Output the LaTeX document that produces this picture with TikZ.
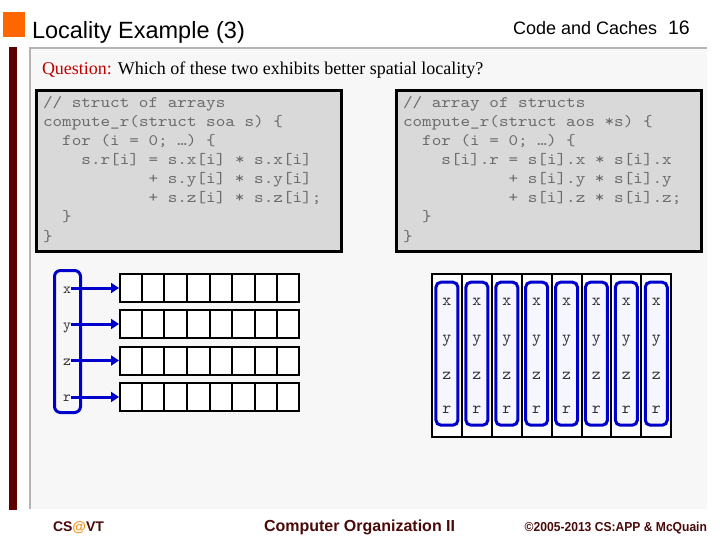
\documentclass[tikz,border=0pt]{standalone}
\usepackage{fontspec}
\setmainfont{Liberation Serif}
\setsansfont{Liberation Sans}
\setmonofont{lmmono10-regular.otf}[FakeStretch=1.143]
\newfontfamily\lblfont{lmmono10-regular.otf}
\usetikzlibrary{arrows.meta,calc}

\definecolor{orangesq}{HTML}{FF6600}
\definecolor{maroonbar}{HTML}{5C0000}
\definecolor{panelbg}{HTML}{F7F7F7}
\definecolor{panelline}{HTML}{B4B4B4}
\definecolor{codebg}{HTML}{D9D9D9}
\definecolor{codetxt}{HTML}{6A6A6A}
\definecolor{qred}{HTML}{C00000}
\definecolor{foot}{HTML}{4A0A0A}
\definecolor{atorange}{HTML}{F7941D}
\definecolor{ptrblue}{HTML}{0000CC}
\definecolor{innerfill}{HTML}{F6F6FF}
\definecolor{lbl}{HTML}{333333}

\tikzset{
  txt/.style={inner sep=0pt, outer sep=0pt, anchor=base west},
  codetext/.style={txt, text=codetxt, font=\ttfamily\fontsize{16}{19}\selectfont\frenchspacing},
  codebox/.style={draw=black, line width=3pt, fill=codebg},
  cellrow/.style={draw=black, line width=2pt, fill=white, minimum width=179pt, minimum height=28pt, inner sep=0pt},
  colbox/.style={draw=black, line width=2pt, fill=white, minimum width=29.9pt, minimum height=163pt, inner sep=0pt},
  blueframe/.style={draw=ptrblue, line width=3pt, rounded corners=6pt, inner sep=0pt},
  letter/.style={inner sep=0pt, outer sep=0pt, anchor=base, text=lbl},
  ptr/.style={draw=ptrblue, line width=3pt, -{Triangle[length=8pt,width=10pt]}},
}

\begin{document}
\begin{tikzpicture}[x=1pt,y=-1pt]
\useasboundingbox (0,0) rectangle (720,540);
\fill[white] (0,0) rectangle (720,540);

% header decorations
\fill[orangesq] (3,12) rectangle (25,37);
\fill[maroonbar] (9,47) rectangle (17,510);
\fill[panelbg] (31,49) rectangle (707,509);
\draw[panelline, line width=2pt] (30,509) -- (30,48) -- (707,48);

% titles
\node[txt, font=\sffamily\fontsize{23.5}{23.5}\selectfont] (title) at (32,39) {Locality Example (3)};
\node[txt, font=\sffamily\fontsize{18}{18}\selectfont] (hdr) at (513,35) {Code and Caches};
\node[txt, font=\sffamily\fontsize{19.5}{19.5}\selectfont] (pgnum) at (668,35) {16};
\node[txt, font=\fontsize{18}{18}\selectfont] (question) at (42,75) {\textcolor{qred}{Question:} Which of these two exhibits better spatial locality?};

% code boxes
\draw[codebox] (36.5,90.5) rectangle (341.5,251.5);
\draw[codebox] (396.5,90.5) rectangle (701.5,251.5);

\node[codetext] (l1) at ({43+0*9.6},108) {// struct of arrays};
\node[codetext] (l2) at ({43+0*9.6},127) {compute\_r(struct soa s) \{};
\node[codetext] (l3) at ({43+2*9.6},146) {for (i = 0; …) \{};
\node[codetext] (l4) at ({43+4*9.6},165) {s.r[i] = s.x[i] * s.x[i]};
\node[codetext] (l5) at ({43+11*9.6},184) {+ s.y[i] * s.y[i]};
\node[codetext] (l6) at ({43+11*9.6},203) {+ s.z[i] * s.z[i];};
\node[codetext] (l7) at ({43+2*9.6},222) {\}};
\node[codetext] (l8) at ({43+0*9.6},241) {\}};

\node[codetext] (r1) at ({403+0*9.6},108) {// array of structs};
\node[codetext] (r2) at ({403+0*9.6},127) {compute\_r(struct aos *s) \{};
\node[codetext] (r3) at ({403+2*9.6},146) {for (i = 0; …) \{};
\node[codetext] (r4) at ({403+4*9.6},165) {s[i].r = s[i].x * s[i].x};
\node[codetext] (r5) at ({403+11*9.6},184) {+ s[i].y * s[i].y};
\node[codetext] (r6) at ({403+11*9.6},203) {+ s[i].z * s[i].z;};
\node[codetext] (r7) at ({403+2*9.6},222) {\}};
\node[codetext] (r8) at ({403+0*9.6},241) {\}};

% struct of arrays diagram
\node[blueframe, minimum width=26pt, minimum height=142pt] (soa) at (67.5,341.5) {};
\node[letter, font=\lblfont\fontsize{15}{15}\selectfont] (lx) at (67,293) {x};
\node[letter, font=\lblfont\fontsize{15}{15}\selectfont] (ly) at (67,329) {y};
\node[letter, font=\lblfont\fontsize{15}{15}\selectfont] (lz) at (67,365.5) {z};
\node[letter, font=\lblfont\fontsize{15}{15}\selectfont] (lr) at (67,401) {r};

\node[cellrow] (ax) at (209.5,288) {};
\node[cellrow] (ay) at (209.5,324) {};
\node[cellrow] (az) at (209.5,360.5) {};
\node[cellrow] (ar) at (209.5,397) {};
\foreach \row in {ax,ay,az,ar}{
  \foreach \k in {1,...,7}{
    \draw[black, line width=2pt] ($(\row.north west)!\k/8!(\row.north east)$) -- ($(\row.south west)!\k/8!(\row.south east)$);
  }
}
\draw[ptr] (lx.east |- ax.west) -- (ax.west);
\draw[ptr] (ly.east |- ay.west) -- (ay.west);
\draw[ptr] (lz.east |- az.west) -- (az.west);
\draw[ptr] (lr.east |- ar.west) -- (ar.west);

% array of structs diagram
\foreach \i in {1,...,8}{
  \pgfmathsetmacro{\cx}{432+(\i-0.5)*29.9}
  \node[colbox] (c\i) at (\cx,355.5) {};
  \node[blueframe, fill=innerfill, minimum width=22pt, minimum height=143pt, rounded corners=5pt] (b\i) at (\cx,353.7) {};
  \node[letter, font=\lblfont\fontsize{17}{17}\selectfont] (x\i) at (\cx,305.5) {x};
  \node[letter, font=\lblfont\fontsize{17}{17}\selectfont] (y\i) at (\cx,342.5) {y};
  \node[letter, font=\lblfont\fontsize{17}{17}\selectfont] (z\i) at (\cx,379) {z};
  \node[letter, font=\lblfont\fontsize{17}{17}\selectfont] (rr\i) at (\cx,413) {r};
}

% footer
\node[txt, font=\sffamily\bfseries\fontsize{14}{14}\selectfont] (csvt) at (53,531) {\textcolor{foot}{CS}\textcolor{atorange}{@}\textcolor{foot}{VT}};
\node[txt, font=\sffamily\bfseries\fontsize{16}{16}\selectfont, text=foot] (course) at (264,531) {Computer Organization II};
\node[txt, anchor=base east, font=\sffamily\bfseries\fontsize{13}{13}\selectfont, text=foot] (copy) at (707,531) {\scalebox{0.93}[1]{©2005-2013 CS:APP \& McQuain}};
\end{tikzpicture}
\end{document}
